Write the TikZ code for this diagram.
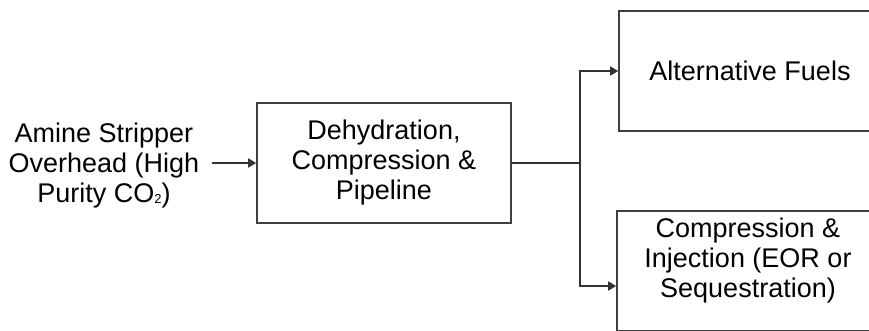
\documentclass[tikz,border=0pt]{standalone}
\usepackage{fontspec}
\setmainfont{Liberation Sans}
\usetikzlibrary{arrows.meta,positioning}

\newcommand{\subtwo}{\raisebox{-0.5pt}{\fontsize{6.5pt}{6.5pt}\selectfont 2}}

\begin{document}
\begin{tikzpicture}[x=0.5pt,y=-0.5pt,>={Triangle[length=4pt,width=4.5pt]},
  every node/.style={font=\fontsize{13.5pt}{15pt}\selectfont,align=center},
  unit/.style={draw=black!75,line width=0.8pt,minimum height=60pt},
  flow/.style={line width=0.8pt,draw=black!80}]
\clip (0,0) rectangle (869,331);
\node[inner xsep=6pt] (amine) at (104,166) {Amine Stripper\\Overhead (High\\Purity CO\subtwo)};
\node[unit,minimum width=127pt] (dehyd) at (384,163) {Dehydration,\\Compression \&\\Pipeline};
\node[unit,minimum width=131pt] (fuels) at (750,71) {Alternative Fuels};
\node[unit,minimum width=131pt] (seq) at (748,271) {};
\node (seqtext) at ([yshift=5pt]seq.center) {Compression \&\\Injection (EOR or\\Sequestration)};
\coordinate (split) at (580,163);
\draw[flow,->] (amine.east |- dehyd.west) -- (dehyd.west);
\draw[flow] (dehyd.east) -- (split);
\draw[flow,->] (split) |- (fuels.west);
\draw[flow,->] (split) |- ([yshift=-7.5pt]seq.west);
\end{tikzpicture}
\end{document}
